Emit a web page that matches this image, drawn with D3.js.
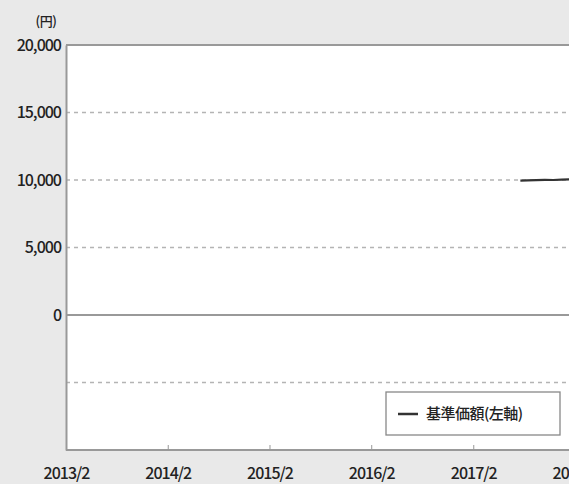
<!DOCTYPE html>
<html>
<head>
<meta charset="utf-8">
<script src="https://cdn.jsdelivr.net/npm/d3@7"></script>
<style>
  html, body { margin: 0; padding: 0; background: #e9e9e9; }
  svg { display: block; }
  text { font-family: "Noto Sans CJK JP", "Noto Sans", sans-serif; fill: #222; }
</style>
</head>
<body>
<div id="chart"></div>
<script>
// 基準価額 chart data
const navDates = ["2017-07-20", "2017-08-15", "2017-09-15", "2017-10-16", "2017-11-15", "2017-12-15", "2018-01-15", "2018-02-15"];
const navValues = [9960, 9975, 9990, 10010, 10000, 10030, 10050, 10070];
const yTicks = [20000, 15000, 10000, 5000, 0];
const gridValues = [15000, 10000, 5000, -5000];
const xTickLabels = ["2013/2", "2014/2", "2015/2", "2016/2", "2017/2", "2018/2"];
const legendLabel = "基準価額(左軸)";
const unitLabel = "(円)";

const W = 569, H = 484;
const margin = { top: 45, left: 66, bottom: 34 };
const plotRight = 620;

const svg = d3.select("#chart")
  .append("svg")
  .attr("width", W)
  .attr("height", H);

const parseYM = d3.timeParse("%Y/%m");
const parseDate = d3.timeParse("%Y-%m-%d");
const tickDates = xTickLabels.map(parseYM);

const x = d3.scaleTime()
  .domain([tickDates[0], tickDates[5]])
  .range([margin.left, 575]);

const y = d3.scaleLinear()
  .domain([-10000, 20000])
  .range([H - margin.bottom, margin.top]);

// plot area
svg.append("rect")
  .attr("x", margin.left)
  .attr("y", margin.top)
  .attr("width", plotRight - margin.left)
  .attr("height", y(-10000) - margin.top)
  .attr("fill", "#fff");

// dashed grid
svg.selectAll(".grid")
  .data(gridValues)
  .enter()
  .append("line")
  .attr("class", "grid")
  .attr("x1", margin.left)
  .attr("x2", plotRight)
  .attr("y1", d => y(d))
  .attr("y2", d => y(d))
  .attr("stroke", "#b4b4b4")
  .attr("stroke-width", 1.3)
  .attr("stroke-dasharray", "4,4");

// zero line
svg.append("line")
  .attr("x1", margin.left).attr("x2", plotRight)
  .attr("y1", y(0)).attr("y2", y(0))
  .attr("stroke", "#999").attr("stroke-width", 2);

// top and bottom borders
[20000, -10000].forEach(v => {
  svg.append("line")
    .attr("x1", margin.left).attr("x2", plotRight)
    .attr("y1", y(v)).attr("y2", y(v))
    .attr("stroke", "#999").attr("stroke-width", 2);
});

// left axis
const yAxis = d3.axisLeft(y)
  .tickValues(yTicks)
  .tickSize(0)
  .tickPadding(5)
  .tickFormat(d3.format(","));

const yg = svg.append("g")
  .attr("transform", `translate(${margin.left},0)`)
  .call(yAxis);
yg.select(".domain").attr("stroke", "#999").attr("stroke-width", 2);
yg.selectAll("text")
  .style("font-size", "16px")
  .style("letter-spacing", "-1px")
  .style("font-weight", "500")
  .attr("fill", "#222");

svg.append("text")
  .attr("x", 46)
  .attr("y", y(20000) - 19)
  .attr("text-anchor", "middle")
  .style("font-size", "13px")
  .style("letter-spacing", "-0.5px")
  .style("font-weight", "500")
  .text(unitLabel);

// bottom axis (ticks point inward)
const xAxis = d3.axisBottom(x)
  .tickValues(tickDates)
  .tickSize(-5)
  .tickPadding(18)
  .tickFormat((d, i) => xTickLabels[i]);

const xg = svg.append("g")
  .attr("transform", `translate(0,${y(-10000)})`)
  .call(xAxis);
xg.select(".domain").remove();
xg.selectAll(".tick line").attr("stroke", "#999");
xg.selectAll("text")
  .style("font-size", "16px")
  .style("letter-spacing", "-1px")
  .style("font-weight", "500")
  .attr("fill", "#222");

// NAV line
const navData = navDates.map((d, i) => ({ date: parseDate(d), value: navValues[i] }));
const line = d3.line()
  .x(d => x(d.date))
  .y(d => y(d.value));

svg.append("path")
  .datum(navData)
  .attr("fill", "none")
  .attr("stroke", "#333")
  .attr("stroke-width", 2.2)
  .attr("d", line);

// legend
const lg = svg.append("g").attr("transform", "translate(386,392)");
lg.append("rect")
  .attr("width", 174).attr("height", 43)
  .attr("fill", "#fff")
  .attr("stroke", "#888").attr("stroke-width", 1.3);
lg.append("line")
  .attr("x1", 12).attr("x2", 32)
  .attr("y1", 22).attr("y2", 22)
  .attr("stroke", "#333").attr("stroke-width", 2.5);
lg.append("text")
  .attr("x", 40).attr("y", 27)
  .style("font-size", "15px")
  .style("letter-spacing", "-0.5px")
  .style("font-weight", "500")
  .text(legendLabel);
</script>
</body>
</html>
